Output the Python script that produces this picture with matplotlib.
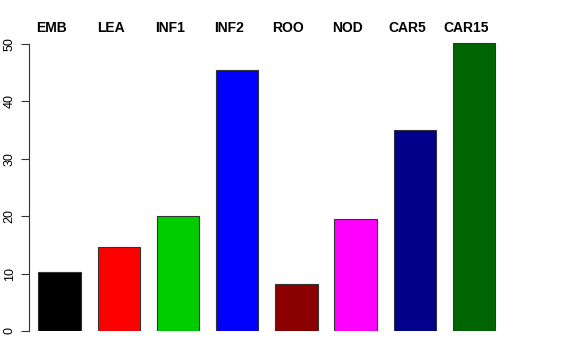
import matplotlib
matplotlib.use("Agg")
import matplotlib.pyplot as plt
import numpy as np

categories = ["EMB", "LEA", "INF1", "INF2", "ROO", "NOD", "CAR5", "CAR15"]
values = [10.2, 14.6, 20.0, 45.5, 8.2, 19.5, 35.0, 50.2]
colors = ["#000000", "#FF0000", "#00CD00", "#0000FF", "#8B0000", "#FF00FF", "#00008B", "#006400"]
yticks = [0, 10, 20, 30, 40, 50]

plt.rcParams['font.family'] = ['Liberation Sans', 'DejaVu Sans']

W, H = 576, 360
fig = plt.figure(figsize=(W / 100, H / 100), dpi=100)
left_px, right_px = 29, 560
bottom_px_from_top, top_px_from_top = 331, 20
ax = fig.add_axes([left_px / W, (H - bottom_px_from_top) / H,
                   (right_px - left_px) / W, (bottom_px_from_top - top_px_from_top) / H])

pxu_x = 42.3
x0_px = 21.4
centers = 0.9 + 1.4 * np.arange(len(categories))
ax.bar(centers, values, width=1.0, color=colors, edgecolor="#333333", linewidth=0.8)
ax.set_xlim((left_px - x0_px) / pxu_x, (right_px - x0_px) / pxu_x)
pxu_y = 5.74
ax.set_ylim(0, (bottom_px_from_top - top_px_from_top) / pxu_y)

for s in ["top", "right", "bottom"]:
    ax.spines[s].set_visible(False)
ax.spines["left"].set_bounds(0, 50)
ax.spines["left"].set_color("#333333")
ax.spines["left"].set_linewidth(0.8)
ax.set_xticks([])
ax.set_yticks(yticks)
ax.set_yticklabels([str(t) for t in yticks], rotation=90, va="center", fontsize=9)
ax.tick_params(axis="y", length=6, width=0.8, color="#333333", pad=3.5)

label_y = (bottom_px_from_top - 28) / pxu_y
for c, name in zip(centers, categories):
    ax.text(c - 0.19, label_y, name, ha="center", va="center", fontsize=10,
            fontweight="bold", clip_on=False)

fig.savefig("out.png", dpi=100, facecolor="white")
